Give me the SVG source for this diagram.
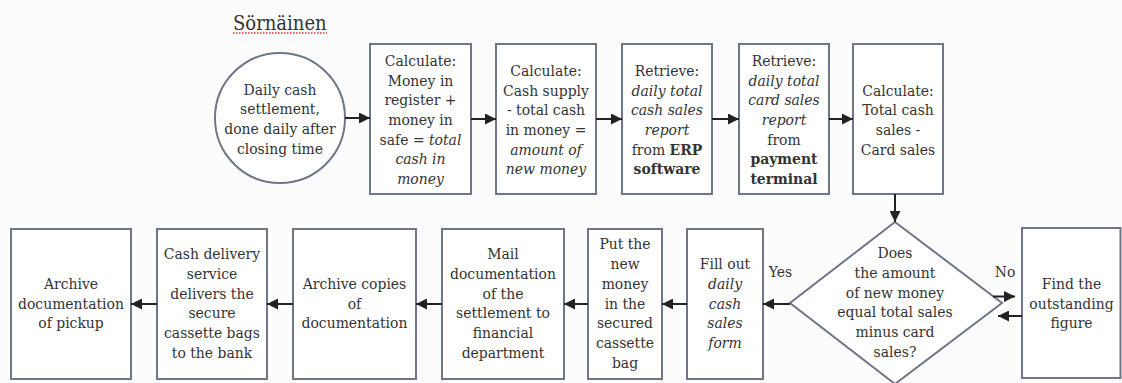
<svg xmlns="http://www.w3.org/2000/svg" width="1122" height="383" viewBox="0 0 1122 383">
<defs>
<marker id="ah" markerUnits="userSpaceOnUse" markerWidth="11" markerHeight="11" refX="10" refY="5" orient="auto" viewBox="0 0 10 10">
<path d="M0,0 L10,5 L0,10 z" fill="#222"/>
</marker>
<style>
.n{fill:#fff;stroke:#6e7687;stroke-width:2}
.t{font-family:'DejaVu Serif Condensed','DejaVu Serif',serif;font-stretch:condensed;font-size:15.5px;fill:#333;text-anchor:middle}
.i{font-style:italic}
.b{font-weight:bold}
.c line{stroke:#222;stroke-width:2;marker-end:url(#ah)}
</style>
</defs>
<rect width="1122" height="383" fill="#fcfcfc"/>
<g id="title">
<text class="t" x="233" y="30" style="font-size:20px;text-anchor:start">Sörnäinen</text>
<line x1="233" y1="33" x2="327" y2="33" stroke="#e03030" stroke-width="1.5" stroke-dasharray="1.5 1.5"/>
</g>
<g id="start">
<circle class="n" cx="280" cy="118" r="65"/>
<text class="t"><tspan x="280" y="94.5">Daily cash</tspan><tspan x="280" y="114.2">settlement,</tspan><tspan x="280" y="133.9">done daily after</tspan><tspan x="280" y="153.6">closing time</tspan></text>
</g>
<g id="calc1">
<rect class="n" x="370" y="44" width="101" height="150"/>
<text class="t"><tspan x="420.5" y="65.9">Calculate:</tspan><tspan x="420.5" y="85.6">Money in</tspan><tspan x="420.5" y="105.3">register +</tspan><tspan x="420.5" y="125">money in</tspan><tspan x="420.5" y="144.7">safe = <tspan class="i">total</tspan></tspan><tspan class="i" x="420.5" y="164.4">cash in</tspan><tspan class="i" x="420.5" y="184.1">money</tspan></text>
</g>
<g id="calc2">
<rect class="n" x="496" y="44" width="100" height="150"/>
<text class="t"><tspan x="546" y="75.8">Calculate:</tspan><tspan x="546" y="95.5">Cash supply</tspan><tspan x="546" y="115.2">- total cash</tspan><tspan x="546" y="134.9">in money =</tspan><tspan class="i" x="546" y="154.6">amount of</tspan><tspan class="i" x="546" y="174.3">new money</tspan></text>
</g>
<g id="retrieve1">
<rect class="n" x="622" y="44" width="90" height="150"/>
<text class="t"><tspan x="667" y="75.8">Retrieve:</tspan><tspan class="i" x="667" y="95.5">daily total</tspan><tspan class="i" x="667" y="115.2">cash sales</tspan><tspan class="i" x="667" y="134.9">report</tspan><tspan x="667" y="154.6">from <tspan class="b">ERP</tspan></tspan><tspan class="b" x="667" y="174.3">software</tspan></text>
</g>
<g id="retrieve2">
<rect class="n" x="739" y="44" width="90" height="150"/>
<text class="t"><tspan x="784" y="65.9">Retrieve:</tspan><tspan class="i" x="784" y="85.6">daily total</tspan><tspan class="i" x="784" y="105.3">card sales</tspan><tspan class="i" x="784" y="125">report</tspan><tspan x="784" y="144.7">from</tspan><tspan class="b" x="784" y="164.4">payment</tspan><tspan class="b" x="784" y="184.1">terminal</tspan></text>
</g>
<g id="calc3">
<rect class="n" x="853" y="44" width="90" height="150"/>
<text class="t"><tspan x="898" y="95.5">Calculate:</tspan><tspan x="898" y="115.2">Total cash</tspan><tspan x="898" y="134.9">sales -</tspan><tspan x="898" y="154.6">Card sales</tspan></text>
</g>
<g id="decision">
<polygon class="n" points="895,222 1002,303 895,384 790,303"/>
<text class="t"><tspan x="895" y="258.3">Does</tspan><tspan x="895" y="278">the amount</tspan><tspan x="895" y="297.7">of new money</tspan><tspan x="895" y="317.4">equal total sales</tspan><tspan x="895" y="337.1">minus card</tspan><tspan x="895" y="356.8">sales?</tspan></text>
</g>
<g id="find">
<rect class="n" x="1022" y="228" width="98.5" height="150"/>
<text class="t"><tspan x="1071.5" y="288.8">Find the</tspan><tspan x="1071.5" y="308.5">outstanding</tspan><tspan x="1071.5" y="328.2">figure</tspan></text>
</g>
<g id="fill">
<rect class="n" x="687" y="229" width="76" height="150"/>
<text class="t"><tspan x="725" y="269.1">Fill out</tspan><tspan class="i" x="725" y="288.8">daily</tspan><tspan class="i" x="725" y="308.5">cash</tspan><tspan class="i" x="725" y="328.2">sales</tspan><tspan class="i" x="725" y="347.9">form</tspan></text>
</g>
<g id="put">
<rect class="n" x="588" y="229" width="74" height="150"/>
<text class="t"><tspan x="625" y="249.4">Put the</tspan><tspan x="625" y="269.1">new</tspan><tspan x="625" y="288.8">money</tspan><tspan x="625" y="308.5">in the</tspan><tspan x="625" y="328.2">secured</tspan><tspan x="625" y="347.9">cassette</tspan><tspan x="625" y="367.6">bag</tspan></text>
</g>
<g id="mail">
<rect class="n" x="442" y="229" width="122" height="150"/>
<text class="t"><tspan x="503" y="259.3">Mail</tspan><tspan x="503" y="279">documentation</tspan><tspan x="503" y="298.7">of the</tspan><tspan x="503" y="318.4">settlement to</tspan><tspan x="503" y="338.1">financial</tspan><tspan x="503" y="357.8">department</tspan></text>
</g>
<g id="archive1">
<rect class="n" x="293" y="229" width="123" height="150"/>
<text class="t"><tspan x="354.5" y="288.8">Archive copies</tspan><tspan x="354.5" y="308.5">of</tspan><tspan x="354.5" y="328.2">documentation</tspan></text>
</g>
<g id="delivery">
<rect class="n" x="157" y="229" width="110" height="150"/>
<text class="t"><tspan x="212" y="259.3">Cash delivery</tspan><tspan x="212" y="279">service</tspan><tspan x="212" y="298.7">delivers the</tspan><tspan x="212" y="318.4">secure</tspan><tspan x="212" y="338.1">cassette bags</tspan><tspan x="212" y="357.8">to the bank</tspan></text>
</g>
<g id="archive2">
<rect class="n" x="11" y="229" width="120" height="150"/>
<text class="t"><tspan x="71" y="288.8">Archive</tspan><tspan x="71" y="308.5">documentation</tspan><tspan x="71" y="328.2">of pickup</tspan></text>
</g>
<g id="labels">
<text class="t" x="780.5" y="277">Yes</text>
<text class="t" x="1005" y="277">No</text>
</g>
<g id="connectors" class="c">
<line x1="345" y1="118" x2="370" y2="118"/>
<line x1="471" y1="119" x2="496" y2="119"/>
<line x1="596" y1="119" x2="622" y2="119"/>
<line x1="712" y1="119" x2="739" y2="119"/>
<line x1="829" y1="119" x2="853" y2="119"/>
<line x1="895" y1="194" x2="895" y2="222"/>
<line x1="993" y1="296.5" x2="1015" y2="296.5"/>
<line x1="1022" y1="316" x2="998" y2="316"/>
<line x1="790" y1="304" x2="763" y2="304"/>
<line x1="687" y1="304" x2="662" y2="304"/>
<line x1="588" y1="304" x2="564" y2="304"/>
<line x1="442" y1="304" x2="416" y2="304"/>
<line x1="293" y1="304" x2="267" y2="304"/>
<line x1="157" y1="304" x2="131" y2="304"/>
</g>
</svg>
